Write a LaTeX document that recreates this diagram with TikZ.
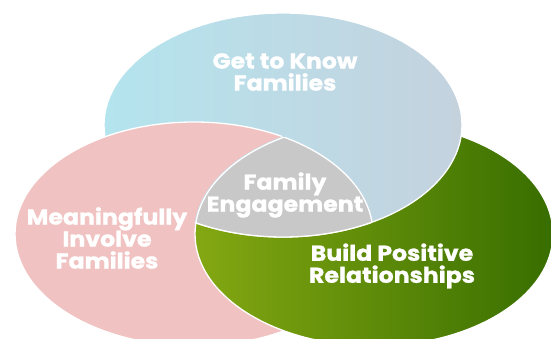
\documentclass[tikz,border=0pt]{standalone}
\usepackage{fontspec}
\setmainfont{Poppins}
\newfontfamily\tagfont{Poppins}[FakeBold=1.2, FakeStretch=1.1]

\definecolor{knowleft}{HTML}{B4E4EE}
\definecolor{knowright}{HTML}{C4D2DE}
\definecolor{involvefill}{HTML}{F0C3C2}
\definecolor{buildleft}{HTML}{84A812}
\definecolor{buildright}{HTML}{386E00}
\definecolor{engagefill}{HTML}{C8C8C8}

% the three ellipses
\def\knowshape{(283pt,213pt) ellipse [x radius=179pt, y radius=112pt]}
\def\involveshape{(194pt,104pt) ellipse [x radius=179pt, y radius=112pt]}
\def\buildshape{(374pt,104pt) ellipse [x radius=179pt, y radius=112pt]}
\def\buildwide{(374pt,104pt) ellipse [x radius=180.2pt, y radius=113.2pt]}

\begin{document}
\begin{tikzpicture}[x=1pt,y=1pt,
    rim/.style={draw=white, line width=1.3pt},
    knowfill/.style={left color=knowleft, right color=knowright},
    tagtext/.style={text=white, font=\tagfont\bfseries\fontsize{21.5}{22}\selectfont, align=center}]
    \useasboundingbox (0,0) rectangle (551,338);

    \shade[knowfill] \knowshape;
    \draw[rim] \knowshape;
    \fill[involvefill] \involveshape;
    \draw[rim] \involveshape;
    \shade[left color=buildleft, right color=buildright] \buildshape;
    \draw[rim] \buildshape;

    % blue lies over green
    \begin{scope}
        \clip \buildwide;
        \shade[knowfill] \knowshape;
        \draw[rim] \knowshape;
    \end{scope}
    % middle part
    \begin{scope}
        \clip \buildshape;
        \clip \involveshape;
        \fill[engagefill] \knowshape;
        \draw[rim] \knowshape;
    \end{scope}
    \begin{scope}
        \clip \knowshape;
        \clip \involveshape;
        \draw[rim] \buildshape;
    \end{scope}
    \begin{scope}
        \clip \knowshape;
        \clip \buildshape;
        \draw[rim] \involveshape;
    \end{scope}

    \node[tagtext] (know) at (285,266) {Get to Know\\Families};
    \node[tagtext] (engage) at (285,143) {Family\\Engagement};
    \node[tagtext] (involve) at (107,100) {Meaningfully\\Involve\\Families};
    \node[tagtext] (build) at (392,72) {Build Positive\\Relationships};
\end{tikzpicture}
\end{document}
